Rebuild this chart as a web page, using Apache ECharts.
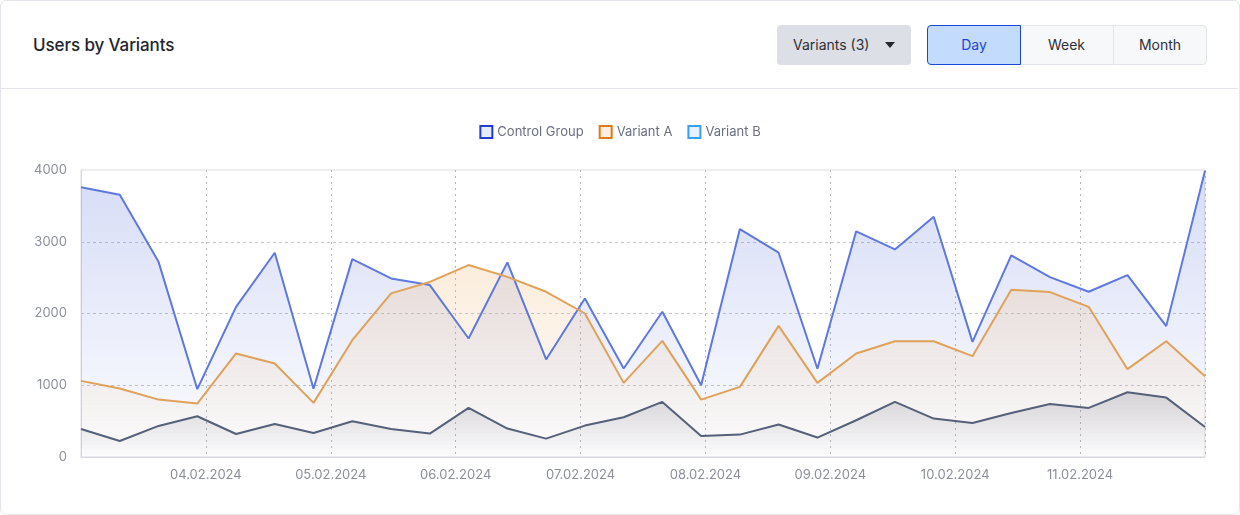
<!DOCTYPE html>
<html>
<head>
<meta charset="utf-8">
<script src="https://cdn.jsdelivr.net/npm/echarts@6/dist/echarts.min.js"></script>
<style>
  html, body { margin:0; padding:0; width:1240px; height:515px; background:#fff; font-family: Inter, "Noto Sans", sans-serif; overflow:hidden; }
  .card { position:absolute; left:0; top:0; width:1238px; height:513px; border:1px solid #e3e5ea; border-radius:6px; background:#fff; }
  .title { position:absolute; left:33px; top:35px; font-size:17px; font-weight:500; color:#23252b; letter-spacing:-0.1px; }
  .divider { position:absolute; left:0; top:88px; width:1238px; height:1px; background:#e3e5ea; }
  .dd { position:absolute; left:777px; top:25px; width:134px; height:40px; background:#dcdfe6; border-radius:4px; box-sizing:border-box; padding-left:16px; font-size:14px; color:#2d3038; line-height:40px; }
  .dd .caret { position:absolute; left:108px; top:17px; width:0; height:0; border-left:5px solid transparent; border-right:5px solid transparent; border-top:6px solid #25272d; }
  .seg { position:absolute; top:25px; height:40px; box-sizing:border-box; font-size:14px; line-height:38px; text-align:center; }
  .day { left:927px; width:94px; background:#c3dbfd; border:1px solid #1d45d6; border-radius:4px 0 0 4px; color:#2447d6; z-index:2; }
  .week { left:1020px; width:94px; background:#f7f8fa; border:1px solid #e2e5ea; border-left:none; color:#2d3038; }
  .month { left:1113px; width:94px; background:#f7f8fa; border:1px solid #e2e5ea; border-radius:0 4px 4px 0; color:#2d3038; }
  #chart { position:absolute; left:0; top:90px; width:1240px; height:425px; }
</style>
</head>
<body>
<div class="card"></div>
<div class="title">Users by Variants</div>
<div class="divider"></div>
<div class="dd">Variants (3)<span class="caret"></span></div>
<div class="seg day">Day</div>
<div class="seg week">Week</div>
<div class="seg month">Month</div>
<div id="chart"></div>
<script>
var timestamps = [
  '2024-02-03 00:00','2024-02-03 07:27','2024-02-03 14:54','2024-02-03 22:21',
  '2024-02-04 05:48','2024-02-04 13:14','2024-02-04 20:41',
  '2024-02-05 04:08','2024-02-05 11:35','2024-02-05 19:02',
  '2024-02-06 02:29','2024-02-06 09:56','2024-02-06 17:23',
  '2024-02-07 00:50','2024-02-07 08:17','2024-02-07 15:43','2024-02-07 23:10',
  '2024-02-08 06:37','2024-02-08 14:04','2024-02-08 21:31',
  '2024-02-09 04:58','2024-02-09 12:25','2024-02-09 19:52',
  '2024-02-10 03:19','2024-02-10 10:46','2024-02-10 18:12',
  '2024-02-11 01:39','2024-02-11 09:06','2024-02-11 16:33',
  '2024-02-12 00:00'
];
var controlGroup = [3760,3655,2720,945,2093,2847,950,2758,2489,2396,
  1652,2712,1359,2210,1233,2024,1000,3177,2847,1230,
  3145,2893,3349,1605,2810,2507,2303,2535,1824,3990];
var variantA = [1061,954,800,745,1443,1303,754,1628,2280,2440,
  2675,2510,2303,2000,1033,1619,800,977,1828,1033,
  1443,1614,1614,1405,2331,2298,2093,1224,1614,1126];
var variantB = [391,223,433,568,321,461,335,498,391,326,
  684,396,256,438,554,768,293,312,452,271,
  512,768,535,475,614,740,684,903,828,419];
var yTicks = [0,1000,2000,3000,4000];
var seriesNames = ['Control Group','Variant A','Variant B'];
var xMin = '2024-02-03 00:00', xMax = '2024-02-12 00:00';

function pairs(vals){ return vals.map(function(v,i){ return [timestamps[i], v]; }); }
function grad(c0, c1){
  return new echarts.graphic.LinearGradient(0,0,0,1,[{offset:0,color:c0},{offset:1,color:c1}]);
}
var minT = echarts.time.parse(xMin).getTime(), maxT = echarts.time.parse(xMax).getTime();
var chart = echarts.init(document.getElementById('chart'));
chart.setOption({
  animation:false,
  textStyle:{ fontFamily:'Inter, "Noto Sans", sans-serif' },
  legend:{
    top:30, left:'center', itemWidth:12, itemHeight:12, itemGap:15,
    icon:'rect',
    textStyle:{ color:'#6b7080', fontSize:13 },
    data:[
      { name:seriesNames[0], itemStyle:{ color:'#e6eaf9', borderColor:'#1d3fd0', borderWidth:2 } },
      { name:seriesNames[1], itemStyle:{ color:'#fbefe2', borderColor:'#e07a12', borderWidth:2 } },
      { name:seriesNames[2], itemStyle:{ color:'#e7f2fc', borderColor:'#3a9ff0', borderWidth:2 } }
    ]
  },
  grid:{ left:81, right:35, top:80, bottom:58, show:true, borderColor:'#dcdde6', borderWidth:1 },
  xAxis:{
    type:'time',
    min:xMin, max:xMax,
    interval:86400000, minInterval:86400000, maxInterval:86400000,
    axisLine:{ show:true, lineStyle:{ color:'#d6d8e2' } },
    axisTick:{ show:false },
    axisLabel:{ color:'#8b8f9b', fontSize:13, margin:12, showMinLabel:false, showMaxLabel:false,
      formatter: function(v){
        if (v <= minT + 1000 || v >= maxT - 1000) return '';
        var d=new Date(v); var dd=('0'+d.getDate()).slice(-2), mm=('0'+(d.getMonth()+1)).slice(-2);
        return dd+'.'+mm+'.'+d.getFullYear(); } },
    splitLine:{ show:true, lineStyle:{ color:'#b4b6be', type:[2,4], width:1 } }
  },
  yAxis:{
    type:'value', min:yTicks[0], max:yTicks[yTicks.length-1], interval:1000,
    axisLine:{ show:true, lineStyle:{ color:'#d6d8e2' } },
    axisTick:{ show:false },
    axisLabel:{ color:'#8b8f9b', fontSize:13, margin:14, formatter:function(v){ return String(v); } },
    splitLine:{ show:true, lineStyle:{ color:['rgba(0,0,0,0)','#c4c6ce','#c4c6ce','#c4c6ce','rgba(0,0,0,0)'], type:[3,3], width:1 } }
  },
  series:[
    { name:seriesNames[0], type:'line', data:pairs(controlGroup), showSymbol:false, symbol:'none',
      lineStyle:{ color:'#5f78e0', width:2 }, itemStyle:{ color:'#5f78e0' },
      areaStyle:{ color: grad('rgba(115,135,225,0.42)','rgba(115,135,225,0.02)') } },
    { name:seriesNames[1], type:'line', data:pairs(variantA), showSymbol:false, symbol:'none',
      lineStyle:{ color:'#e0a158', width:2 }, itemStyle:{ color:'#e0a158' },
      areaStyle:{ color: grad('rgba(240,190,130,0.40)','rgba(240,190,130,0.02)') } },
    { name:seriesNames[2], type:'line', data:pairs(variantB), showSymbol:false, symbol:'none',
      lineStyle:{ color:'#556079', width:2 }, itemStyle:{ color:'#556079' },
      areaStyle:{ color: grad('rgba(95,100,120,0.30)','rgba(95,100,120,0.0)') } }
  ]
});
</script>
</body>
</html>
